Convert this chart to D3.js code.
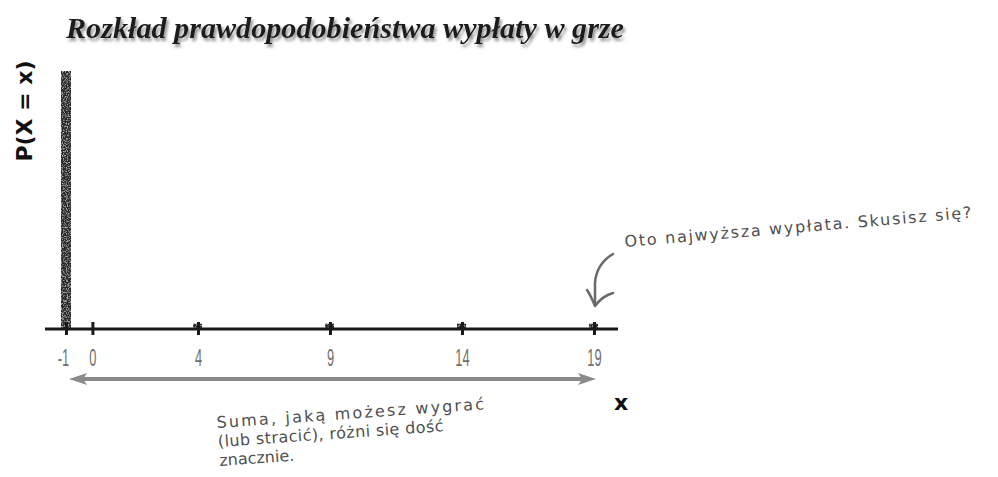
<!DOCTYPE html>
<html>
<head>
<meta charset="utf-8">
<script src="https://cdn.jsdelivr.net/npm/d3@7"></script>
<style>
  body { margin: 0; background: #fff; }
</style>
</head>
<body>
<script>
// chart data
const payouts = [-1, 4, 9, 14, 19];
const probabilities = [0.977, 0.02, 0.02, 0.02, 0.02];
const tickValues = [-1, 0, 4, 9, 14, 19];
const title = "Rozkład prawdopodobieństwa wypłaty w grze";
const yLabel = "P(X = x)";
const xLabel = "x";
const noteTop = "Oto najwyższa wypłata. Skusisz się?";
const noteBottom = ["Suma, jaką możesz wygrać", "(lub stracić), różni się dość", "znacznie."];

const W = 998, H = 477;
const axisY = 329;

const svg = d3.select("body").append("svg")
    .attr("width", W)
    .attr("height", H);

const defs = svg.append("defs");
const shadow = defs.append("filter").attr("id", "shadow")
    .attr("x", "-5%").attr("y", "-30%").attr("width", "110%").attr("height", "160%");
shadow.append("feDropShadow")
    .attr("dx", 2).attr("dy", 3).attr("stdDeviation", 1.6)
    .attr("flood-color", "#777").attr("flood-opacity", 0.8);

// grainy texture for the bars
const grain = defs.append("filter").attr("id", "grain");
grain.append("feTurbulence").attr("type", "fractalNoise")
    .attr("baseFrequency", 0.8).attr("numOctaves", 2).attr("seed", 3).attr("result", "noise");
grain.append("feColorMatrix").attr("in", "noise").attr("type", "matrix")
    .attr("values", "0 0 0 0 0.5  0 0 0 0 0.5  0 0 0 0 0.5  0 0 0 -3 1.55").attr("result", "spots");
grain.append("feComposite").attr("in", "spots").attr("in2", "SourceGraphic").attr("operator", "in").attr("result", "cut");
grain.append("feMerge").selectAll("feMergeNode")
    .data(["SourceGraphic", "cut"]).enter().append("feMergeNode").attr("in", d => d);

// scales
const x = d3.scaleLinear().domain([-1, 19]).range([66, 594]);
const y = d3.scaleLinear().domain([0, 1]).range([axisY, 65]);

// title
svg.append("text")
    .attr("x", 66)
    .attr("y", 38)
    .attr("textLength", 558)
    .attr("lengthAdjust", "spacingAndGlyphs")
    .style("font-family", "'Liberation Serif', serif")
    .style("font-weight", "bold")
    .style("font-style", "italic")
    .style("font-size", "30px")
    .style("fill", "#1e1e1e")
    .attr("filter", "url(#shadow)")
    .text(title);

// y-axis label
svg.append("text")
    .attr("transform", "translate(32,111) rotate(-90)")
    .attr("text-anchor", "middle")
    .style("font-family", "'DejaVu Sans', sans-serif")
    .style("font-weight", "bold")
    .style("font-size", "22px")
    .style("fill", "#111")
    .text(yLabel);

// bars
svg.selectAll(".bar")
    .data(payouts)
    .enter()
    .append("rect")
    .attr("class", "bar")
    .attr("x", (d, i) => x(d) - 5)
    .attr("width", (d, i) => i === 0 ? 10 : 9)
    .attr("y", (d, i) => y(probabilities[i]))
    .attr("height", (d, i) => axisY - y(probabilities[i]))
    .attr("fill", "#2b2b2b")
    .attr("filter", "url(#grain)");

// x axis
const xAxis = svg.append("g")
    .attr("transform", "translate(0," + axisY + ")")
    .call(d3.axisBottom(x).tickValues(tickValues).tickFormat(d => String(d)).tickSizeOuter(0));
xAxis.select(".domain").remove();
xAxis.insert("line", ":first-child")
    .attr("x1", 45).attr("x2", 618)
    .attr("stroke", "#1a1a1a").attr("stroke-width", 3.2);
xAxis.selectAll(".tick line")
    .attr("y1", -7).attr("y2", 6)
    .attr("stroke", "#1a1a1a").attr("stroke-width", 3);
xAxis.selectAll(".tick text")
    .attr("y", 0).attr("dy", null)
    .attr("transform", "translate(0,37) scale(0.56,1)")
    .style("font-family", "'Liberation Sans', Arial, sans-serif")
    .style("font-weight", "normal")
    .style("font-size", "23px")
    .style("fill", "#707070");
xAxis.selectAll(".tick").filter(d => d === -1).select("text")
    .attr("transform", "translate(-3,37) scale(0.56,1)");

// double arrow under the axis
const arrowY = 379;
const ax1 = x(-1) + 3, ax2 = x(19) + 2;
svg.append("line")
    .attr("x1", ax1 + 10).attr("x2", ax2 - 10)
    .attr("y1", arrowY).attr("y2", arrowY)
    .attr("stroke", "#8a8a8a").attr("stroke-width", 4);
svg.append("path")
    .attr("d", `M${ax1},${arrowY} L${ax1 + 18},${arrowY - 6} L${ax1 + 14},${arrowY} L${ax1 + 18},${arrowY + 6} Z`)
    .attr("fill", "#8a8a8a");
svg.append("path")
    .attr("d", `M${ax2},${arrowY} L${ax2 - 18},${arrowY - 6} L${ax2 - 14},${arrowY} L${ax2 - 18},${arrowY + 6} Z`)
    .attr("fill", "#8a8a8a");

// x label
svg.append("text")
    .attr("x", 621)
    .attr("y", 410)
    .attr("text-anchor", "middle")
    .style("font-family", "'DejaVu Sans', sans-serif")
    .style("font-weight", "bold")
    .style("font-size", "22px")
    .style("fill", "#111")
    .text(xLabel);

// bottom note
const note = svg.append("g")
    .attr("transform", "translate(217,428) rotate(-4)")
    .style("font-family", "'DejaVu Sans', sans-serif")
    .style("font-size", "16px")
    .style("fill", "#505050");
const noteLens = [268, 226, null];
noteBottom.forEach(function(t, i) {
    const line = note.append("text")
        .attr("x", 0).attr("y", i * 19)
        .text(t);
    if (noteLens[i]) line.attr("textLength", noteLens[i]).attr("lengthAdjust", "spacing");
});

// top note with curved arrow
svg.append("text")
    .attr("transform", "translate(625,247) rotate(-4.8)")
    .attr("textLength", 348)
    .attr("lengthAdjust", "spacing")
    .style("font-family", "'DejaVu Sans', sans-serif")
    .style("font-size", "16px")
    .style("fill", "#505050")
    .text(noteTop);

svg.append("path")
    .attr("d", "M613,254 C603,260 596,268 595,283 L595,305")
    .attr("fill", "none").attr("stroke", "#6a6a6a").attr("stroke-width", 2.5)
    .attr("stroke-linecap", "round");
svg.append("path")
    .attr("d", "M587,290 C591,296 593,301 595,306 C600,299 606,295 613,293")
    .attr("fill", "none").attr("stroke", "#6a6a6a").attr("stroke-width", 2.5)
    .attr("stroke-linecap", "round").attr("stroke-linejoin", "round");
</script>
</body>
</html>
